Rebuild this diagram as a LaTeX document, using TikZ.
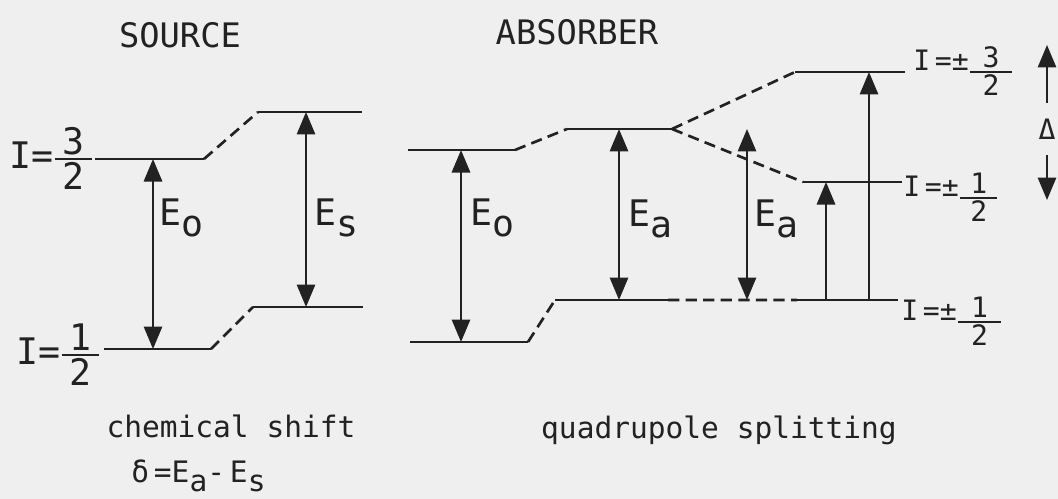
\documentclass[tikz,border=0pt]{standalone}
\usepackage{amsmath}
\usepackage{fontspec}
\setmainfont{DejaVu Sans Mono}
\usetikzlibrary{arrows.meta}
\definecolor{mbPaper}{HTML}{EFEFEF}
\definecolor{mbInk}{HTML}{222222}
\newcommand{\headsize}{\fontsize{24}{28}\selectfont}
\newcommand{\lblsize}{\fontsize{26}{30}\selectfont}
\newcommand{\spinsize}{\fontsize{20}{24}\selectfont}
\newcommand{\undersize}{\fontsize{21}{25}\selectfont}
\newcommand{\lowsub}[1]{\raisebox{-0.6ex}{#1}}
\newcommand{\spinfrac}[3]{$\genfrac{}{}{1.3pt}{1}{\mbox{\hspace{#1}#2\hspace{#1}}}{\mbox{\hspace{#1}#3\hspace{#1}}}$}

\begin{document}
\begin{tikzpicture}[
  x=0.025cm, y=-0.025cm,
  lvl/.style={mbInk, line width=2pt},
  shiftdash/.style={mbInk, line width=1.9pt, dash pattern=on 8pt off 4.5pt},
  trans/.style={mbInk, line width=1.6pt,
    {Triangle[length=16pt,width=13pt]}-{Triangle[length=16pt,width=13pt]}},
  uptrans/.style={mbInk, line width=1.6pt, -{Triangle[length=16pt,width=13pt]}},
  headline/.style={font=\headsize, text=mbInk, inner sep=0pt, anchor=base},
  elbl/.style={font=\lblsize, text=mbInk, inner sep=0pt, anchor=base west},
  spinlbl/.style={font=\spinsize, text=mbInk, inner sep=0pt, anchor=base west},
  undertext/.style={font=\undersize, text=mbInk, inner sep=0pt, anchor=base},
]
\fill[mbPaper] (0,0) rectangle (1058,499);
\useasboundingbox (0,0) rectangle (1058,499);

% Source levels
\coordinate (s3a) at (95,159);
\coordinate (s3b) at (204,159);
\coordinate (s3c) at (258,112);
\coordinate (s3d) at (362,112);
\coordinate (s1a) at (104,349);
\coordinate (s1b) at (211,349);
\coordinate (s1c) at (253,307);
\coordinate (s1d) at (363,307);
\draw[lvl] (s3a) -- (s3b) (s3c) -- (s3d) (s1a) -- (s1b) (s1c) -- (s1d);
\draw[shiftdash] (s3b) -- (s3c) (s1b) -- (s1c);

% Source transitions
\coordinate (xeo) at (153,0);
\coordinate (xes) at (306,0);
\draw[trans] (s3a -| xeo) -- (s1a -| xeo);
\draw[trans] (s3c -| xes) -- (s1c -| xes);

% Absorber levels
\coordinate (a3a) at (408,150);
\coordinate (a3b) at (515,150);
\coordinate (a3c) at (567,129);
\coordinate (a3d) at (672,129);
\coordinate (q3a) at (795,72);
\coordinate (q3b) at (905,72);
\coordinate (q1a) at (803,182);
\coordinate (q1b) at (902,182);
\coordinate (a1a) at (410,342);
\coordinate (a1b) at (528,342);
\coordinate (a1c) at (555,300);
\coordinate (a1d) at (668,300);
\coordinate (g1a) at (797,300);
\coordinate (g1b) at (898,300);
\draw[lvl] (a3a) -- (a3b) (a3c) -- (a3d) (q3a) -- (q3b) (q1a) -- (q1b)
  (a1a) -- (a1b) (a1c) -- (a1d) (g1a) -- (g1b);
\draw[shiftdash] (a3b) -- (a3c) (a3d) -- (q3a) (a3d) -- (q1a)
  (a1b) -- (a1c) (a1d) -- (g1a);

% Absorber transitions
\coordinate (xeo2) at (461,0);
\coordinate (xea1) at (619,0);
\coordinate (xea2) at (747,0);
\coordinate (xq1) at (826,0);
\coordinate (xq3) at (869,0);
\draw[trans] (a3a -| xeo2) -- (a1a -| xeo2);
\draw[trans] (a3c -| xea1) -- (a1c -| xea1);
\draw[trans] (a3c -| xea2) -- (a1c -| xea2);
\draw[uptrans] (g1a -| xq1) -- (q1a -| xq1);
\draw[uptrans] (g1a -| xq3) -- (q3a -| xq3);

% Splitting Delta
\node[spinlbl, anchor=center, inner ysep=11pt] (delta) at (1047,129) {Δ};
\coordinate (dtop) at (1047,45);
\coordinate (dbot) at (1047,200);
\draw[uptrans] (delta.north) -- (dtop);
\draw[uptrans] (delta.south) -- (dbot);

% Energy labels
\node[elbl] (eo1) at (159,225) {E\lowsub{o}};
\node[elbl] (es1) at (314.5,225) {E\lowsub{s}};
\node[elbl] (eo2) at (470,225) {E\lowsub{o}};
\node[elbl] (ea1) at (628.5,226) {E\lowsub{a}};
\node[elbl] (ea2) at (754,226) {E\lowsub{a}};

% Spin labels
\node[elbl] (s3lbl) at (9,168) {I=\spinfrac{0.2em}{3}{2}};
\node[elbl] (s1lbl) at (16,364) {I=\spinfrac{0.2em}{1}{2}};
\node[spinlbl] (q3lbl) at (913,79) {\raisebox{0.3em}{I\,=±}\spinfrac{0.43em}{3}{2}};
\node[spinlbl] (q1lbl) at (903,205) {\raisebox{0.3em}{I\,=±}\spinfrac{0.35em}{1}{2}};
\node[spinlbl] (g1lbl) at (901,329) {\raisebox{0.3em}{I\,=±}\spinfrac{0.45em}{1}{2}};

% Headings and captions
\node[headline] (srcttl) at (180,48) {SOURCE};
\node[headline] (absttl) at (577,45) {ABSORBER};
\node[undertext] (cshift) at (231,437) {chemical shift};
\node[undertext, anchor=base west] (deltaeq) at (131,482)
  {δ\,=E\lowsub{a}-\,E\lowsub{s}};
\node[undertext] (qsplit) at (719,438) {quadrupole splitting};

\end{tikzpicture}
\end{document}
